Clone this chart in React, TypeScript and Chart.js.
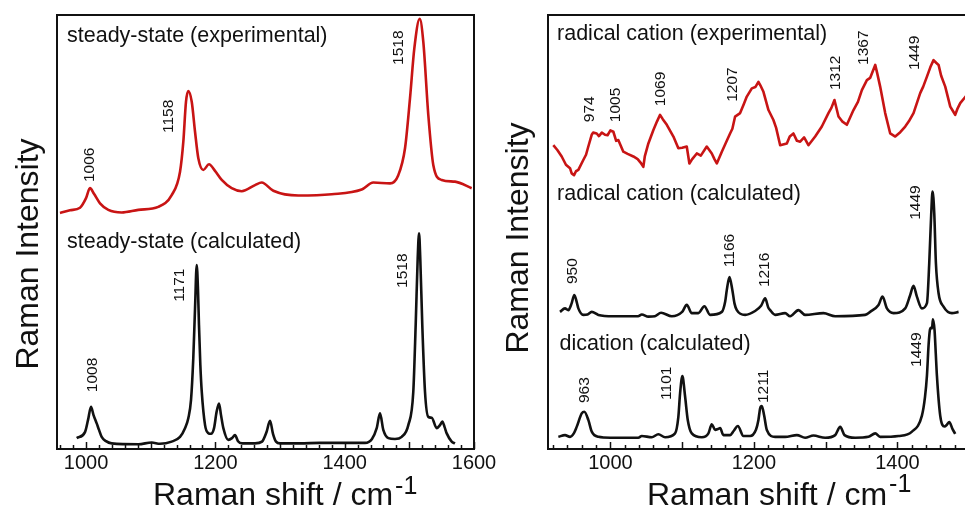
import React, { useEffect, useRef } from "react";
import { Chart, registerables } from "chart.js";

Chart.register(...registerables);

const FONT = '"Liberation Sans", Arial, Helvetica, sans-serif';
const RED = "#c81414";
const INK = "#111111";

// ---------- Left panel: steady-state ----------
const ssExpX = [959.6, 975, 990.6, 999.9, 1006, 1012.2, 1021.5, 1034.4, 1055.1, 1080.8, 1111.7, 1132.4, 1145.3, 1150.4, 1154.5, 1158.1, 1163.4, 1168.5, 1173.6, 1181.3, 1190.1, 1199.4, 1209.8, 1225.2, 1240.7, 1261.3, 1271.6, 1289.6, 1328.2, 1379.9, 1426.3, 1444.2, 1470.1, 1482.9, 1493.3, 1501.0, 1507.7, 1516, 1521.6, 1529.3, 1537.1, 1550.0, 1570.6, 1596.4];
const ssExpY = [54.4, 55.0, 55.6, 57.8, 60.1, 58.8, 56.6, 55.1, 54.5, 55.1, 55.8, 58.5, 63.9, 70.8, 80.0, 82.5, 80.0, 73.1, 67.0, 64.3, 65.6, 64.1, 62.0, 60.1, 59.4, 60.8, 61.4, 59.5, 58.4, 58.7, 59.8, 61.4, 61.2, 63.1, 69.3, 80.8, 92.3, 99.1, 93.8, 77.0, 65.4, 62.0, 61.6, 60.1];

const ssCalcX = [985.5, 998.3, 1003, 1007.6, 1011.5, 1016.4, 1020, 1024.1, 1030.8, 1039.6, 1080.8, 1101.5, 1114.3, 1132.4, 1145.3, 1153, 1158.1, 1162.3, 1165.8, 1168.5, 1171.1, 1173.1, 1174.6, 1176.7, 1178.9, 1184, 1188.6, 1193.3, 1197.9, 1201.8, 1205.6, 1208.7, 1212.3, 1219.9, 1225.7, 1230.3, 1235, 1241.2, 1261.3, 1272.1, 1279.1, 1284.5, 1289.1, 1293.8, 1300, 1330.9, 1361.8, 1392.8, 1431.4, 1442.2, 1449.5, 1454.6, 1459.7, 1467.5, 1477.8, 1488.2, 1498.4, 1506.1, 1509.8, 1512.9, 1515, 1516.9, 1520, 1524.2, 1529.3, 1534.6, 1542.3, 1547.4, 1551, 1554.4, 1557.8, 1565.5, 1570.6];
const ssCalcY = [2.5, 3.9, 6.7, 9.7, 7.8, 5.9, 4.4, 2.8, 1.8, 1.3, 1.1, 1.5, 1.2, 1.7, 2.8, 4.8, 7.1, 11.3, 20.9, 32.4, 42.4, 36.6, 28.6, 19.4, 13.2, 5.5, 3.7, 3.5, 4.8, 8.5, 10.5, 7.8, 4.8, 2.1, 2.5, 3.2, 1.8, 1.3, 1.3, 1.7, 3.9, 6.5, 3.5, 1.7, 1.3, 1.3, 1.4, 1.4, 1.4, 2.3, 4.8, 8.2, 4.4, 2.5, 2.3, 2.8, 5.5, 13.2, 28.6, 43.9, 49.7, 43.9, 28.6, 13.2, 7.4, 7.2, 4.8, 5.5, 6.3, 5.1, 3.6, 1.7, 1.3];

const ssPeakText = ["1006", "1158", "1518", "1008", "1171", "1518"];
const ssPeakX = [1006, 1128.2, 1484, 1010.7, 1145.3, 1490.2];
const ssPeakY = [61.5, 72.8, 88.5, 13.1, 33.9, 37.1];

const ssTitles = ["steady-state (experimental)", "steady-state (calculated)"];
const ssTitleX = [970.5, 970.5];
const ssTitleY = [93.8, 46.2];
const ssTickLabels = [1000, 1200, 1400, 1600];

// ---------- Right panel: radical cation / dication ----------
const rcExpX = [920.4, 926, 932.1, 938, 943.7, 946, 949.3, 952, 955.3, 962.2, 966, 969.2, 973.9, 976, 980.9, 984, 988, 992.5, 996, 1000, 1004.1, 1008, 1011, 1018, 1024, 1032, 1038, 1042, 1045.9, 1048, 1052.9, 1059.9, 1065, 1069.2, 1073, 1078.6, 1087.8, 1094.7, 1100, 1106.4, 1110.1, 1114, 1120.4, 1126, 1134.3, 1141.3, 1145, 1148.3, 1155.3, 1160, 1166.8, 1170, 1173.8, 1180.8, 1186, 1190.1, 1197.1, 1202, 1206.3, 1209, 1213.3, 1220.3, 1227.2, 1231, 1236.6, 1245.9, 1250, 1255.1, 1260, 1264.5, 1270, 1276, 1285.4, 1294.7, 1303.9, 1308, 1312.3, 1317.9, 1323, 1329.6, 1338.8, 1345, 1350.5, 1357.5, 1362, 1369.1, 1372, 1376, 1383, 1390, 1397, 1404, 1410.9, 1416, 1422.5, 1431.8, 1436, 1441.2, 1446, 1450.4, 1454, 1457.4, 1461, 1466.7, 1473.7, 1477, 1480.6, 1484, 1487.6, 1494.6, 1501.6];
const rcExpY = [70.0, 68.9, 67.4, 65.5, 64.7, 63.5, 63.1, 64.0, 64.3, 66.6, 67.8, 69.7, 72.4, 72.9, 72.7, 72.1, 72.9, 72.4, 72.3, 73.4, 73.1, 71.0, 71.2, 68.5, 68.0, 67.4, 66.8, 66.0, 65.0, 67.5, 70.4, 73.5, 75.5, 77.0, 76.0, 74.7, 72.0, 69.3, 69.4, 69.7, 65.8, 66.8, 68.1, 67.6, 69.7, 68.1, 66.8, 65.8, 68.5, 70.2, 72.7, 73.8, 76.6, 77.4, 79.5, 81.2, 83.1, 83.4, 84.6, 83.8, 82.3, 78.1, 75.8, 74.0, 70.0, 70.4, 72.0, 72.7, 71.0, 70.8, 71.8, 70.0, 72.0, 74.3, 77.4, 78.6, 80.4, 76.6, 75.5, 74.7, 78.1, 80.0, 82.7, 85.0, 85.5, 88.5, 86.5, 83.5, 77.4, 72.7, 72.0, 73.0, 74.3, 75.5, 77.4, 82.0, 83.5, 85.8, 88.0, 89.6, 89.0, 88.5, 86.0, 83.5, 78.9, 78.0, 77.0, 78.5, 79.7, 81.1, 82.3];

const rcCalcX = [929.7, 936.7, 941.3, 945.8, 949.7, 953.4, 955.3, 962.2, 968, 974, 983.2, 1003.7, 1038.5, 1043.7, 1052.9, 1062, 1070.6, 1085.5, 1100, 1106.4, 1113.4, 1122.6, 1131, 1138.9, 1155.3, 1160, 1162.2, 1165.9, 1170, 1173, 1176.2, 1187.8, 1201.7, 1210, 1215.7, 1220, 1222.6, 1229.6, 1243.5, 1250.5, 1262.1, 1271.4, 1297, 1313.3, 1355.1, 1362.1, 1373.7, 1379.3, 1385.4, 1394.6, 1410.9, 1417.9, 1422.5, 1427.2, 1434.2, 1441.2, 1444.4, 1447.2, 1449, 1451.4, 1453.7, 1457.4, 1464.3, 1476, 1485.3];
const rcCalcY = [31.6, 32.4, 32.0, 33.5, 35.5, 33.6, 32.4, 30.9, 31.0, 31.6, 30.9, 30.6, 30.6, 31.0, 30.5, 30.6, 31.4, 30.6, 31.6, 33.2, 31.3, 31.3, 32.9, 30.9, 31.6, 34.0, 36.6, 39.6, 36.6, 33.5, 32.0, 30.9, 31.8, 33.0, 34.7, 32.6, 32.0, 30.9, 31.3, 30.6, 32.0, 30.9, 31.3, 30.6, 30.9, 31.6, 33.2, 35.1, 32.4, 31.3, 32.4, 35.5, 37.6, 35.1, 32.4, 33.6, 42.8, 54.3, 59.3, 54.3, 42.8, 35.9, 32.8, 31.3, 31.6];

const dcCalcX = [927.4, 936.7, 943.7, 949, 953, 960, 963.6, 969.2, 974, 983.2, 1000, 1038.9, 1043.7, 1057.6, 1066.8, 1076.2, 1090.1, 1094.7, 1097.1, 1100.3, 1104.1, 1107.8, 1113.4, 1127.4, 1136.6, 1141.3, 1145.9, 1150, 1152.9, 1157.5, 1166.8, 1172, 1177.6, 1185.4, 1194.7, 1203, 1206.3, 1208.7, 1211, 1214.3, 1218, 1229.6, 1243.5, 1259.9, 1271.4, 1283, 1299.3, 1313.3, 1320.3, 1326.3, 1341.2, 1359.7, 1369.1, 1376, 1401.6, 1420.3, 1434.2, 1438.5, 1441.2, 1443.5, 1445.5, 1447.2, 1448.3, 1449.5, 1451.8, 1453.5, 1455.1, 1459.7, 1465.7, 1469, 1472.3, 1476.9, 1480.6];
const dcCalcY = [2.8, 3.2, 2.8, 3.6, 5.1, 8.2, 8.6, 6.7, 4.0, 2.8, 2.6, 2.6, 3.0, 2.7, 3.4, 2.7, 3.6, 7.4, 12.8, 16.8, 12.1, 6.7, 3.6, 2.7, 3.6, 5.7, 4.4, 4.6, 4.8, 3.2, 3.2, 4.2, 5.3, 3.0, 3.0, 4.5, 6.7, 9.4, 9.9, 7.7, 4.4, 2.8, 2.8, 3.2, 2.6, 3.1, 2.6, 3.2, 5.1, 3.2, 2.6, 2.8, 3.6, 2.8, 3.0, 4.0, 7.7, 12, 16.9, 24, 27.6, 28.0, 27.8, 29.9, 27.4, 22, 16.9, 7.7, 5.2, 5.6, 6.2, 4.6, 3.5];

const rPeakText = ["974", "1005", "1069", "1207", "1312", "1367", "1449", "950", "1166", "1216", "1449", "963", "1101", "1211", "1449"];
const rPeakX = [971.6, 1007.8, 1070.6, 1171, 1314.7, 1353.7, 1423.5, 947.9, 1166.8, 1215.7, 1424.9, 964.6, 1079, 1214.3, 1426.3];
const rPeakY = [75.3, 75.3, 79.0, 80.0, 82.7, 88.5, 87.3, 38.0, 41.9, 37.3, 52.8, 10.6, 11.3, 10.6, 18.9];

const rTitles = ["radical cation (experimental)", "radical cation (calculated)", "dication (calculated)"];
const rTitleX = [925.6, 925.6, 929];
const rTitleY = [94.2, 57.3, 22.8];
const rTickLabels = [1000, 1200, 1400];

const X_TITLE = "Raman shift / cm";
const X_SUP = "-1";
const Y_TITLE = "Raman Intensity";

type Series = { x: number[]; y: number[]; color: string; smooth: boolean };
type Panel = {
  id: string;
  xMin: number;
  xMax: number;
  padding: { left: number; right: number; top: number; bottom: number };
  series: Series[];
  peakText: string[];
  peakX: number[];
  peakY: number[];
  titles: string[];
  titleX: number[];
  titleY: number[];
  tickLabels: number[];
  xTitleDx: number;
  xTitleBase: number;
  supBase: number;
  yTitleDx: number;
  yTitleDy: number;
};

function overlay(p: Panel) {
  return {
    id: "overlay-" + p.id,
    afterDraw(chart: any) {
      const { ctx, chartArea: a } = chart;
      const xs = chart.scales.x;
      const ys = chart.scales.y;
      ctx.save();
      ctx.strokeStyle = INK;
      ctx.lineWidth = 2;
      ctx.strokeRect(a.left, a.top, a.right - a.left, a.bottom - a.top);
      ctx.lineWidth = 1.5;
      xs.ticks.forEach((t: any) => {
        const v = t.value;
        if (Math.abs(v / 20 - Math.round(v / 20)) > 1e-6) return;
        const len = Math.abs(v / 100 - Math.round(v / 100)) < 1e-6 ? 7 : 4;
        const px = Math.round(xs.getPixelForValue(v)) + 0.5;
        ctx.beginPath();
        ctx.moveTo(px, a.bottom);
        ctx.lineTo(px, a.bottom - len);
        ctx.stroke();
      });
      ctx.fillStyle = INK;
      ctx.font = `15.5px ${FONT}`;
      ctx.textAlign = "left";
      ctx.textBaseline = "middle";
      p.peakText.forEach((s, i) => {
        ctx.save();
        ctx.translate(xs.getPixelForValue(p.peakX[i]), ys.getPixelForValue(p.peakY[i]));
        ctx.rotate(-Math.PI / 2);
        ctx.fillText(s, 0, 0);
        ctx.restore();
      });
      ctx.font = `21.5px ${FONT}`;
      ctx.textBaseline = "alphabetic";
      p.titles.forEach((s, i) => {
        ctx.fillText(s, xs.getPixelForValue(p.titleX[i]), ys.getPixelForValue(p.titleY[i]));
      });
      // x axis title with superscript
      ctx.font = `32px ${FONT}`;
      const tx = a.left + p.xTitleDx;
      ctx.fillText(X_TITLE, tx, p.xTitleBase);
      const w = ctx.measureText(X_TITLE).width;
      ctx.font = `25px ${FONT}`;
      ctx.fillText(X_SUP, tx + w + 2, p.supBase);
      // y axis title
      ctx.font = `32px ${FONT}`;
      ctx.textAlign = "center";
      ctx.save();
      ctx.translate(a.left + p.yTitleDx, (a.top + a.bottom) / 2 + p.yTitleDy);
      ctx.rotate(-Math.PI / 2);
      ctx.fillText(Y_TITLE, 0, 0);
      ctx.restore();
      ctx.restore();
    },
  };
}

function buildConfig(p: Panel): any {
  return {
    type: "scatter",
    data: {
      datasets: p.series.map((s) => ({
        data: s.x.map((x, i) => ({ x, y: s.y[i] })),
        showLine: true,
        borderColor: s.color,
        borderWidth: 2.6,
        pointRadius: 0,
        fill: false,
        tension: 0,
        cubicInterpolationMode: s.smooth ? "monotone" : "default",
        borderJoinStyle: "round",
      })),
    },
    options: {
      responsive: false,
      animation: false,
      events: [],
      layout: { padding: p.padding },
      plugins: { legend: { display: false }, tooltip: { enabled: false } },
      scales: {
        x: {
          type: "linear",
          min: p.xMin,
          max: p.xMax,
          grid: { display: false, drawTicks: false },
          border: { display: false },
          ticks: {
            stepSize: 20,
            autoSkip: false,
            maxRotation: 0,
            minRotation: 0,
            includeBounds: false,
            padding: 2,
            color: INK,
            font: { family: FONT, size: 20 },
            callback: (v: any) => (p.tickLabels.includes(Number(v)) ? String(v) : ""),
          },
        },
        y: { display: false, min: 0, max: 100 },
      },
    },
    plugins: [overlay(p)],
  };
}

const leftPanel: Panel = {
  id: "left",
  xMin: 955,
  xMax: 1600,
  padding: { left: 57, right: 56, top: 15, bottom: 32 },
  series: [
    { x: ssExpX, y: ssExpY, color: RED, smooth: true },
    { x: ssCalcX, y: ssCalcY, color: INK, smooth: true },
  ],
  peakText: ssPeakText,
  peakX: ssPeakX,
  peakY: ssPeakY,
  titles: ssTitles,
  titleX: ssTitleX,
  titleY: ssTitleY,
  tickLabels: ssTickLabels,
  xTitleDx: 96,
  xTitleBase: 505,
  supBase: 494,
  yTitleDx: -19,
  yTitleDy: 22,
};

const rightPanel: Panel = {
  id: "right",
  xMin: 913,
  xMax: 1550,
  padding: { left: 58, right: 45, top: 15, bottom: 32 },
  series: [
    { x: rcExpX, y: rcExpY, color: RED, smooth: false },
    { x: rcCalcX, y: rcCalcY, color: INK, smooth: true },
    { x: dcCalcX, y: dcCalcY, color: INK, smooth: true },
  ],
  peakText: rPeakText,
  peakX: rPeakX,
  peakY: rPeakY,
  titles: rTitles,
  titleX: rTitleX,
  titleY: rTitleY,
  tickLabels: rTickLabels,
  xTitleDx: 99,
  xTitleBase: 505,
  supBase: 492,
  yTitleDx: -20,
  yTitleDy: 6,
};

export default function App() {
  const leftRef = useRef<HTMLCanvasElement>(null);
  const rightRef = useRef<HTMLCanvasElement>(null);
  useEffect(() => {
    const c1 = new Chart(leftRef.current as HTMLCanvasElement, buildConfig(leftPanel));
    const c2 = new Chart(rightRef.current as HTMLCanvasElement, buildConfig(rightPanel));
    return () => {
      c1.destroy();
      c2.destroy();
    };
  }, []);
  return (
    <div style={{ position: "fixed", left: 0, top: 0, width: 965, height: 509, overflow: "hidden", background: "#fff" }}>
      <canvas ref={leftRef} width={530} height={509} style={{ position: "absolute", left: 0, top: 0 }} />
      <canvas ref={rightRef} width={560} height={509} style={{ position: "absolute", left: 490, top: 0 }} />
    </div>
  );
}
